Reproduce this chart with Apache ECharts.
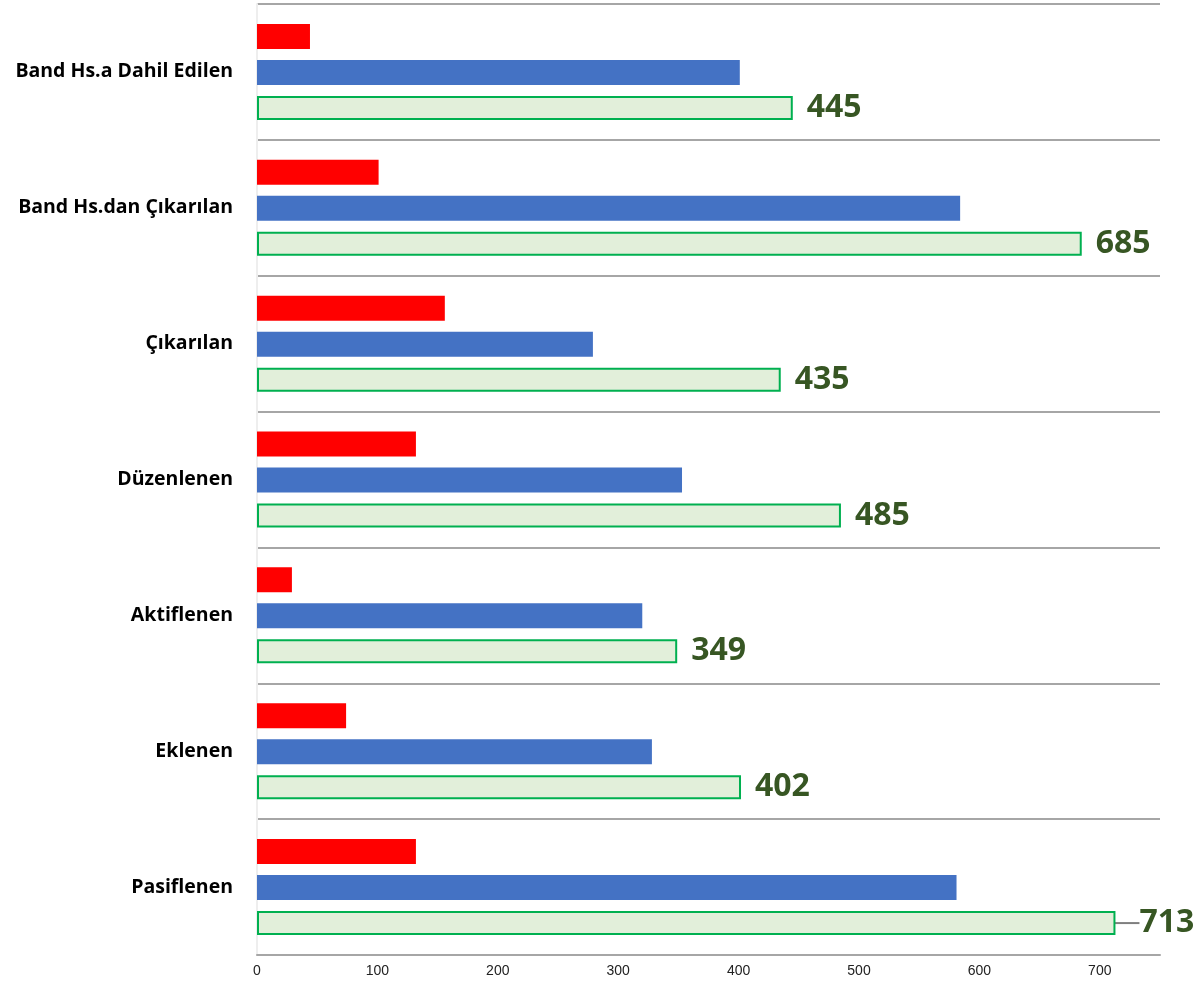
<!DOCTYPE html>
<html><head><meta charset="utf-8">
<script src="https://cdn.jsdelivr.net/npm/echarts@6/dist/echarts.min.js"></script>
<style>html,body{margin:0;padding:0;background:#fff}#c{width:1201px;height:982px}</style>
</head><body><div id="c"></div>
<script>
const categories = ["Band Hs.a Dahil Edilen","Band Hs.dan Çıkarılan","Çıkarılan","Düzenlenen","Aktiflenen","Eklenen","Pasiflenen"];
const redValues = [44, 101, 156, 132, 29, 74, 132];
const blueValues = [401, 584, 279, 353, 320, 328, 581];
const totalValues = [445, 685, 435, 485, 349, 402, 713];
const xTicks = [0,100,200,300,400,500,600,700];
const leaderIndex = 6;

const chart = echarts.init(document.getElementById('c'));
chart.setOption({
  animation: false,
  grid: {left: 257, right: 41, top: 4, bottom: 27},
  xAxis: {
    type: 'value', min: 0, max: 750, interval: 100,
    axisLine: {show: true, lineStyle: {color: '#a6a6a6', width: 2}},
    axisTick: {show: false},
    splitLine: {show: false},
    axisLabel: {fontFamily: 'Liberation Sans', fontSize: 14, color: '#222', margin: 9,
      formatter: v => xTicks.includes(v) ? String(v) : ''}
  },
  yAxis: {
    type: 'category', data: categories, inverse: true,
    axisLine: {show: true, lineStyle: {color: '#eeeeee', width: 2}},
    axisTick: {show: false},
    splitLine: {show: true, lineStyle: {color: '#a6a6a6', width: 2}},
    axisLabel: {fontFamily: 'Open Sans', fontWeight: 'bold', fontSize: 19.5, color: '#000', margin: 24}
  },
  series: [
    {type: 'bar', data: redValues, barWidth: 25, barGap: '44%', itemStyle: {color: '#ff0000'}},
    {type: 'bar', data: blueValues, barWidth: 25, itemStyle: {color: '#4472c4'}},
    {type: 'bar', barWidth: 24,
      data: totalValues.map((v, i) => i === leaderIndex
        ? {value: v, labelLine: {show: true, lineStyle: {color: '#7f7f7f', width: 2}}}
        : {value: v, labelLine: {show: false}}),
      itemStyle: {color: '#e2efda', borderColor: '#00b050', borderWidth: 2},
      label: {show: true, position: 'right', distance: 14, fontFamily: 'Open Sans', fontWeight: 'bold', fontSize: 32, color: '#375623', offset: [0, 4]},
      labelLine: {show: false},
      labelLayout: function (p) { return p.dataIndex === leaderIndex ? {dx: 10} : {}; }
    }
  ]
});
</script></body></html>
